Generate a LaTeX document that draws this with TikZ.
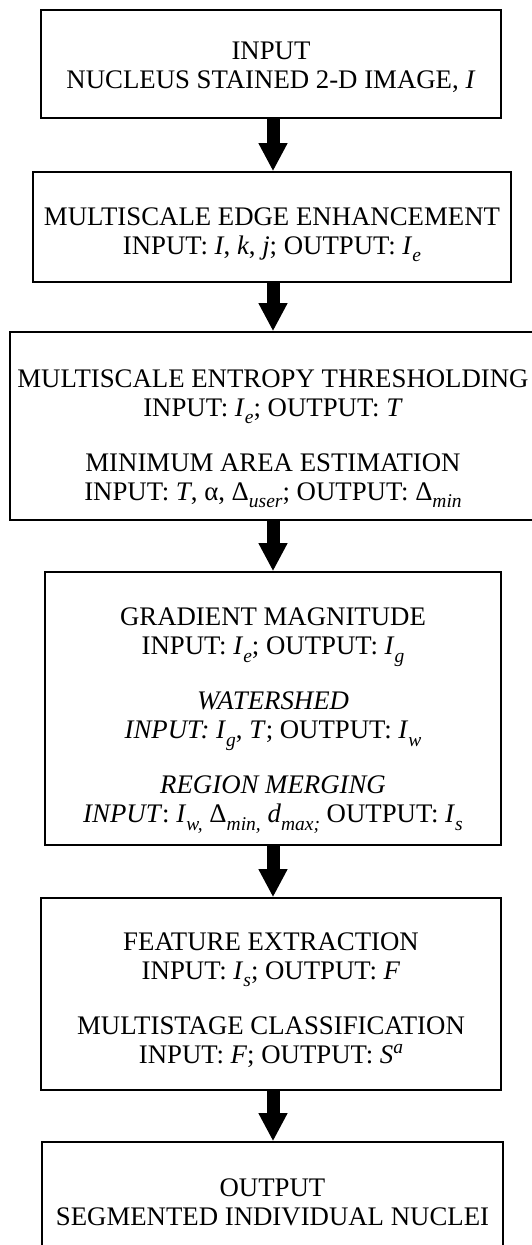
\documentclass[tikz,border=0pt]{standalone}
\usepackage{fontspec}
\setmainfont{Liberation Serif}
\usetikzlibrary{arrows.meta}
\newcommand\sbs[1]{\raisebox{-0.28em}{\fontsize{19.5}{19.5}\selectfont\textit{#1}}}
\newcommand\sps[1]{\raisebox{0.36em}{\fontsize{19.5}{19.5}\selectfont\textit{#1}}}
\newcommand\gapline{\\[26pt]}
\newcommand\txt[2]{\raisebox{#1}[\height][\depth]{\begin{tabular}{@{}c@{}}#2\end{tabular}}}
\tikzset{
  box/.style={draw, line width=1.6pt, inner sep=0pt, align=center,
    font=\fontsize{26.8}{29}\selectfont},
  flow/.style={line width=13pt, -{Triangle[width=27pt,length=28pt]}}
}
\begin{document}
\begin{tikzpicture}[x=1pt,y=-1pt]
\useasboundingbox (0,0) rectangle (532,1245);
\clip (0,0) rectangle (532,1245);
\coordinate (ax) at (273,0);
\node[box, minimum width=460pt, minimum height=108pt] (b1) at (271,64)
  {\txt{-4pt}{INPUT\\ NUCLEUS STAINED 2-D IMAGE, \textit{I}}};
\node[box, minimum width=478pt, minimum height=110pt] (b2) at (272,227)
  {\txt{-7pt}{MULTISCALE EDGE ENHANCEMENT\\ INPUT: \textit{I}, \textit{k}, \textit{j}; OUTPUT: \textit{I}\sbs{e}}};
\node[box, minimum width=526pt, minimum height=188pt] (b3) at (273,426)
  {\txt{-12pt}{MULTISCALE ENTROPY THRESHOLDING\\ INPUT: \textit{I}\sbs{e}; OUTPUT: \textit{T}\gapline MINIMUM AREA ESTIMATION\\ INPUT: \textit{T}, α, Δ\sbs{user}; OUTPUT: Δ\sbs{min}}};
\node[box, minimum width=456pt, minimum height=273pt] (b4) at (273,708.5)
  {\txt{-11pt}{GRADIENT MAGNITUDE\\ INPUT: \textit{I}\sbs{e}; OUTPUT: \textit{I}\sbs{g}\gapline \textit{WATERSHED}\\ \textit{INPUT: I}\sbs{g}, \textit{T}; OUTPUT: \textit{I}\sbs{w}\gapline \textit{REGION MERGING}\\ \textit{INPUT}: \textit{I}\sbs{w,} Δ\sbs{min,} \textit{d}\sbs{max;} OUTPUT: \textit{I}\sbs{s}}};
\node[box, minimum width=460pt, minimum height=192pt] (b5) at (271,994)
  {\txt{-7pt}{FEATURE EXTRACTION\\ INPUT: \textit{I}\sbs{s}; OUTPUT: \textit{F}\gapline MULTISTAGE CLASSIFICATION\\ INPUT: \textit{F}; OUTPUT: \textit{S}\sps{a}}};
\node[box, minimum width=461pt, minimum height=110pt] (b6) at (272.5,1197)
  {\txt{-8pt}{OUTPUT\\ SEGMENTED INDIVIDUAL NUCLEI}};
\draw[flow] (b1.south -| ax) -- (b2.north -| ax);
\draw[flow] (b2.south -| ax) -- (b3.north -| ax);
\draw[flow] (b3.south -| ax) -- (b4.north -| ax);
\draw[flow] (b4.south -| ax) -- (b5.north -| ax);
\draw[flow] (b5.south -| ax) -- (b6.north -| ax);
\end{tikzpicture}
\end{document}
